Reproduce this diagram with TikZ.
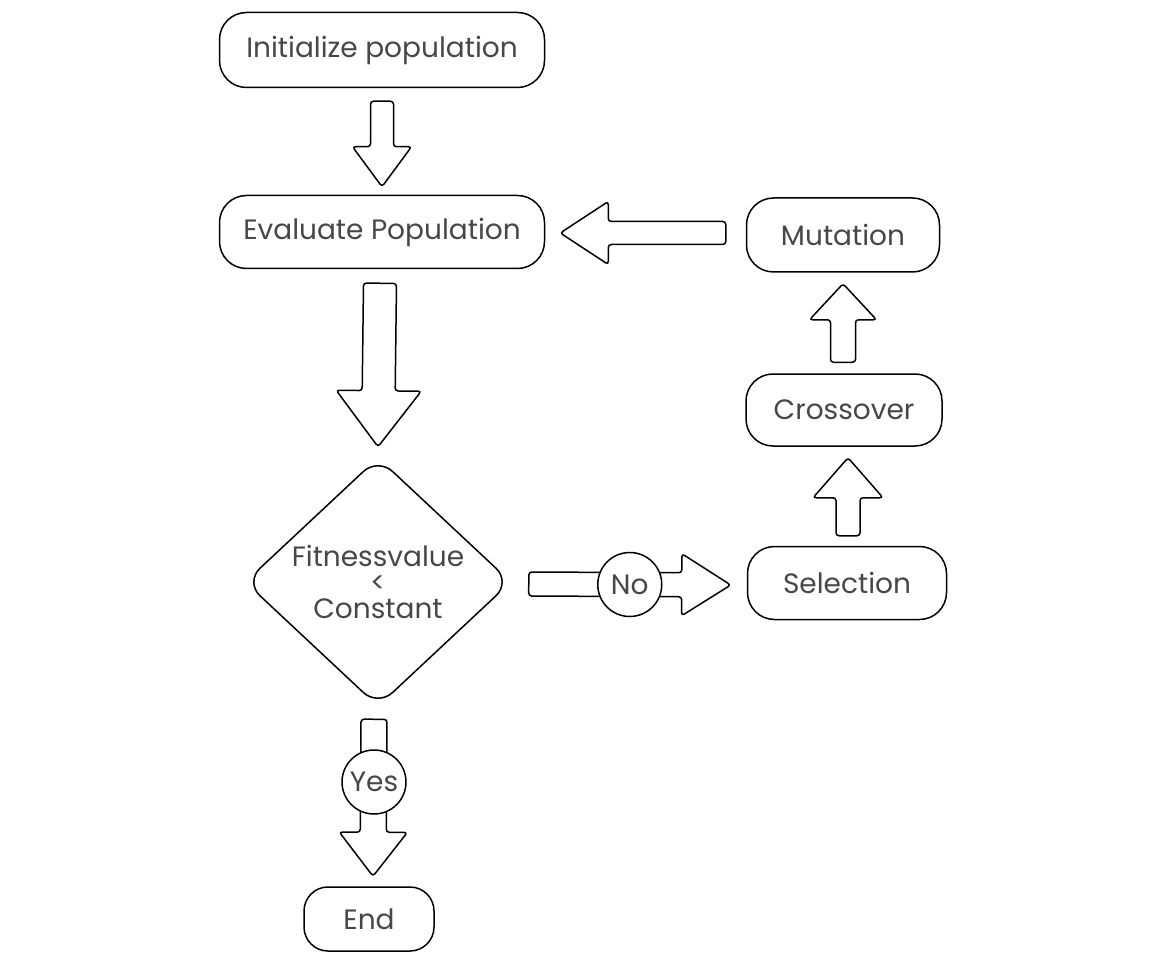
\documentclass[tikz,border=0pt]{standalone}
\usepackage{fontspec}
\setmainfont{Poppins}
\usetikzlibrary{calc,shapes.geometric}
\tikzset{
  x=1pt,y=-1pt,
  lbl/.style={font=\fontsize{28}{32}\selectfont, text=black!72},
  box/.style={draw, line width=1.5pt, rounded corners=27pt, lbl, inner sep=0pt},
  dec/.style={draw, diamond, line width=1.5pt, rounded corners=20pt, inner sep=0pt},
  tag/.style={draw, circle, fill=white, line width=1.5pt, lbl, inner sep=0pt, minimum size=64pt},
  barrow/.style={draw, line width=1.5pt, fill=white, rounded corners=3pt}
}
% #1 tail centre, #2 tip, #3 shaft half width, #4 head half width, #5 head length
\newcommand\blockarrow[5]{%
  \coordinate (hb) at ($(#2)!#5!(#1)$);
  \draw[barrow] ($(#1)!#3!90:(#2)$) -- ($(hb)!#3!90:(#2)$) -- ($(hb)!#4!90:(#2)$)
    -- (#2) -- ($(hb)!#4!-90:(#2)$) -- ($(hb)!#3!-90:(#2)$) -- ($(#1)!#3!-90:(#2)$) -- cycle;
}
\begin{document}
\begin{tikzpicture}
\useasboundingbox (0,0) rectangle (1150,957);
\node[box, minimum width=325pt, minimum height=75pt] (init) at (382,50) {Initialize population};
\node[box, minimum width=325pt, minimum height=73pt] (eval) at (382,232) {Evaluate Population};
\node[dec, minimum width=266pt, minimum height=249pt] (fit) at (378,582) {};
\node[lbl, align=center, inner sep=0pt] (fittext) at (fit.center) {Fitnessvalue\\[-6pt]<\\[-6pt]Constant};
\node[box, minimum width=199pt, minimum height=73pt] (sel) at (847,583) {Selection};
\node[box, minimum width=196pt, minimum height=72pt] (cro) at (844,410) {Crossover};
\node[box, minimum width=193pt, minimum height=74pt] (mut) at (843,235) {Mutation};
\node[box, minimum width=130pt, minimum height=64pt, rounded corners=24pt] (end) at (369,919) {End};

\coordinate (a1t) at ($(init.south)+(0,13)$);
\coordinate (a1h) at ($(eval.north)+(0,-8)$);
\blockarrow{a1t}{a1h}{11.5pt}{29.5pt}{40pt}

\coordinate (a2t) at ($(eval.south)+(-2,14)$);
\coordinate (a2h) at ($(fit.north)+(0,-10)$);
\blockarrow{a2t}{a2h}{16.5pt}{42.5pt}{56pt}

\coordinate (a3t) at ($(fit.east)+(17,2)$);
\coordinate (a3h) at ($(sel.west)+(-16,2)$);
\blockarrow{a3t}{a3h}{12pt}{31pt}{49pt}
\node[tag] (no) at ($(a3t)!0.5!(a3h)$) {No};

\coordinate (a4t) at ($(sel.north)+(1,-10)$);
\coordinate (a4h) at ($(cro.south)+(4,11)$);
\blockarrow{a4t}{a4h}{12pt}{35pt}{40pt}

\coordinate (a5t) at ($(cro.north)+(-1,-11)$);
\coordinate (a5h) at ($(mut.south)+(0,11)$);
\blockarrow{a5t}{a5h}{12.5pt}{33.5pt}{36pt}

\coordinate (a6t) at ($(mut.west)+(-20,-2)$);
\coordinate (a6h) at ($(eval.east)+(15,1)$);
\blockarrow{a6t}{a6h}{11.5pt}{31.5pt}{48pt}

\coordinate (a7t) at ($(fit.south)+(-4,12)$);
\coordinate (a7h) at ($(end.north)+(4,-10)$);
\blockarrow{a7t}{a7h}{13pt}{34pt}{44pt}
\node[tag] (yes) at (374,782) {Yes};
\end{tikzpicture}
\end{document}
